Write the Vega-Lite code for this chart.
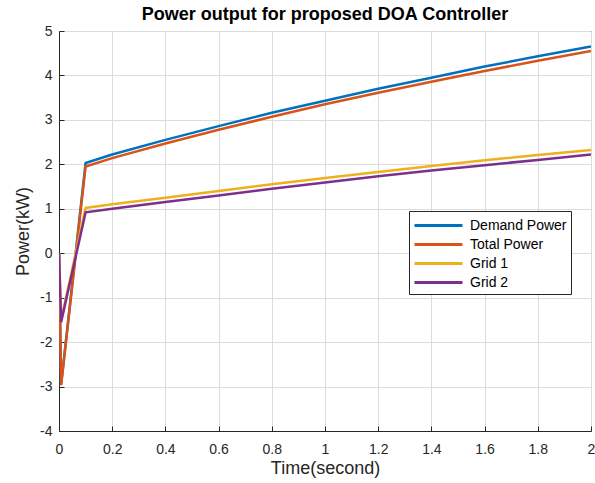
{
  "$schema": "https://vega.github.io/schema/vega-lite/v6.json",
  "autosize": "none",
  "width": 532,
  "height": 400,
  "padding": {"left": 59, "top": 31, "right": 4, "bottom": 52},
  "background": "white",
  "title": {"text": "Power output for proposed DOA Controller", "font": "Liberation Sans", "fontSize": 18, "fontWeight": "bold", "color": "#000000", "offset": 0},
  "config": {
    "view": {"stroke": "#262626", "strokeWidth": 1},
    "axis": {"labelFont": "Liberation Sans", "titleFont": "Liberation Sans", "labelFontSize": 14, "titleFontSize": 18, "labelColor": "#262626", "titleColor": "#262626", "titleFontWeight": "normal", "domainColor": "#262626", "tickColor": "#262626", "gridColor": "#dcdcdc", "tickSize": -5, "labelFlush": false, "labelBound": false, "labelOverlap": false, "labelExpr": "'' + datum.value"}
  },
  "data": {"values": [
    {"t": 0, "p": 0, "s": "Demand Power"},
    {"t": 0.008, "p": -2.95, "s": "Demand Power"},
    {"t": 0.1, "p": 2.03, "s": "Demand Power"},
    {"t": 0.2, "p": 2.22, "s": "Demand Power"},
    {"t": 0.4, "p": 2.55, "s": "Demand Power"},
    {"t": 0.6, "p": 2.86, "s": "Demand Power"},
    {"t": 0.8, "p": 3.16, "s": "Demand Power"},
    {"t": 1.0, "p": 3.43, "s": "Demand Power"},
    {"t": 1.2, "p": 3.7, "s": "Demand Power"},
    {"t": 1.4, "p": 3.95, "s": "Demand Power"},
    {"t": 1.6, "p": 4.2, "s": "Demand Power"},
    {"t": 1.8, "p": 4.43, "s": "Demand Power"},
    {"t": 2.0, "p": 4.65, "s": "Demand Power"},
    {"t": 0, "p": 0, "s": "Total Power"},
    {"t": 0.008, "p": -2.97, "s": "Total Power"},
    {"t": 0.1, "p": 1.95, "s": "Total Power"},
    {"t": 0.2, "p": 2.14, "s": "Total Power"},
    {"t": 0.4, "p": 2.47, "s": "Total Power"},
    {"t": 0.6, "p": 2.78, "s": "Total Power"},
    {"t": 0.8, "p": 3.07, "s": "Total Power"},
    {"t": 1.0, "p": 3.35, "s": "Total Power"},
    {"t": 1.2, "p": 3.61, "s": "Total Power"},
    {"t": 1.4, "p": 3.86, "s": "Total Power"},
    {"t": 1.6, "p": 4.1, "s": "Total Power"},
    {"t": 1.8, "p": 4.33, "s": "Total Power"},
    {"t": 2.0, "p": 4.55, "s": "Total Power"},
    {"t": 0, "p": 0, "s": "Grid 1"},
    {"t": 0.008, "p": -1.5, "s": "Grid 1"},
    {"t": 0.1, "p": 1.02, "s": "Grid 1"},
    {"t": 0.2, "p": 1.1, "s": "Grid 1"},
    {"t": 0.4, "p": 1.25, "s": "Grid 1"},
    {"t": 0.6, "p": 1.4, "s": "Grid 1"},
    {"t": 0.8, "p": 1.55, "s": "Grid 1"},
    {"t": 1.0, "p": 1.69, "s": "Grid 1"},
    {"t": 1.2, "p": 1.83, "s": "Grid 1"},
    {"t": 1.4, "p": 1.96, "s": "Grid 1"},
    {"t": 1.6, "p": 2.09, "s": "Grid 1"},
    {"t": 1.8, "p": 2.21, "s": "Grid 1"},
    {"t": 2.0, "p": 2.32, "s": "Grid 1"},
    {"t": 0, "p": 0, "s": "Grid 2"},
    {"t": 0.008, "p": -1.55, "s": "Grid 2"},
    {"t": 0.1, "p": 0.92, "s": "Grid 2"},
    {"t": 0.2, "p": 1.0, "s": "Grid 2"},
    {"t": 0.4, "p": 1.15, "s": "Grid 2"},
    {"t": 0.6, "p": 1.3, "s": "Grid 2"},
    {"t": 0.8, "p": 1.45, "s": "Grid 2"},
    {"t": 1.0, "p": 1.59, "s": "Grid 2"},
    {"t": 1.2, "p": 1.73, "s": "Grid 2"},
    {"t": 1.4, "p": 1.86, "s": "Grid 2"},
    {"t": 1.6, "p": 1.98, "s": "Grid 2"},
    {"t": 1.8, "p": 2.1, "s": "Grid 2"},
    {"t": 2.0, "p": 2.22, "s": "Grid 2"}
  ]},
  "mark": {"type": "line", "strokeWidth": 2.5, "clip": true},
  "encoding": {
    "x": {"field": "t", "type": "quantitative", "scale": {"domain": [0, 2], "nice": false}, "axis": {"title": "Time(second)", "values": [0, 0.2, 0.4, 0.6, 0.8, 1, 1.2, 1.4, 1.6, 1.8, 2], "labelPadding": 16, "titlePadding": 3}},
    "y": {"field": "p", "type": "quantitative", "scale": {"domain": [-4, 5], "nice": false}, "axis": {"title": "Power(kW)", "values": [-4, -3, -2, -1, 0, 1, 2, 3, 4, 5], "labelPadding": 12, "titlePadding": 7}},
    "color": {"field": "s", "type": "nominal", "sort": ["Demand Power", "Total Power", "Grid 1", "Grid 2"],
      "scale": {"domain": ["Demand Power", "Total Power", "Grid 1", "Grid 2"], "range": ["#0072BD", "#D95319", "#EDB120", "#7E2F8E"]},
      "legend": {"title": null, "orient": "none", "legendX": 350, "legendY": 180, "symbolType": "M-1,0H4.33", "symbolSize": 324, "symbolStrokeWidth": 3, "labelOffset": 36, "labelFont": "Liberation Sans", "labelFontSize": 14, "labelColor": "#000000", "strokeColor": "#262626", "fillColor": "white", "padding": 4, "rowPadding": 1}
    },
    "order": {"field": "s"}
  }
}
